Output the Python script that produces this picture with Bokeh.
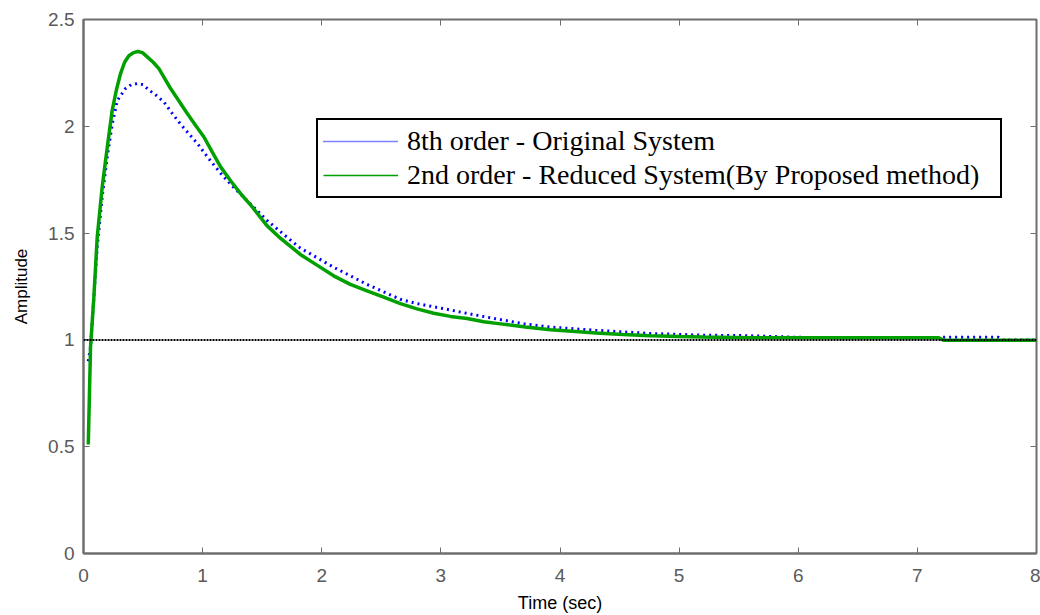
from bokeh.plotting import figure
from bokeh.models import (LinearAxis, FixedTicker, CustomJSTickFormatter, Span,
                          Legend, LegendItem, Range1d)
from bokeh.embed import file_html
from bokeh.resources import INLINE

# Step response of the original 8th-order system
t_orig = [0.04, 0.06, 0.087, 0.115, 0.157, 0.199, 0.241, 0.283, 0.353, 0.40,
          0.451, 0.50, 0.549, 0.61, 0.675, 0.745, 0.815, 0.885, 0.955, 1.05,
          1.151, 1.25, 1.35, 1.54, 1.71, 1.82, 1.96, 2.10, 2.24, 2.38, 2.52,
          2.66, 2.80, 2.94, 3.08, 3.22, 3.45, 3.70, 3.92, 4.30, 4.76, 5.20,
          5.55, 6.00, 6.50, 7.00, 7.23, 7.68, 7.72, 8.00]
y_orig = [0.90, 0.97, 1.20, 1.435, 1.67, 1.856, 2.01, 2.12, 2.177, 2.195,
          2.20, 2.195, 2.17, 2.145, 2.114, 2.06, 2.01, 1.965, 1.92, 1.85,
          1.78, 1.72, 1.665, 1.56, 1.48, 1.43, 1.385, 1.34, 1.30, 1.26, 1.225,
          1.19, 1.17, 1.155, 1.14, 1.124, 1.10, 1.075, 1.06, 1.045, 1.03, 1.022,
          1.02, 1.012, 1.01, 1.01, 1.012, 1.012, 1.0, 1.0]

# Step response of the reduced 2nd-order system
t_red = [0.04, 0.059, 0.087, 0.115, 0.157, 0.199, 0.241, 0.276, 0.311, 0.345,
         0.381, 0.42, 0.456, 0.495, 0.535, 0.585, 0.633, 0.68, 0.731, 0.80,
         0.871, 0.94, 1.011, 1.08, 1.151, 1.235, 1.319, 1.42, 1.54, 1.655,
         1.82, 1.96, 2.10, 2.24, 2.38, 2.52, 2.66, 2.80, 2.94, 3.08, 3.22,
         3.36, 3.50, 3.71, 3.92, 4.10, 4.30, 4.53, 4.76, 5.00, 5.20, 5.60,
         6.00, 6.50, 7.00, 7.18, 7.22, 7.60, 8.00]
y_red = [0.51, 0.966, 1.20, 1.48, 1.716, 1.90, 2.075, 2.17, 2.247, 2.30,
         2.33, 2.345, 2.35, 2.345, 2.325, 2.30, 2.27, 2.225, 2.177, 2.12,
         2.06, 2.005, 1.95, 1.88, 1.81, 1.745, 1.685, 1.62, 1.535, 1.475,
         1.40, 1.35, 1.30, 1.26, 1.23, 1.20, 1.17, 1.145, 1.125, 1.11, 1.10,
         1.085, 1.075, 1.06, 1.047, 1.04, 1.032, 1.025, 1.02, 1.016, 1.013,
         1.01, 1.01, 1.01, 1.01, 1.01, 0.998, 0.998, 0.998]

steady_state = 1.0
x_ticks = [0, 1, 2, 3, 4, 5, 6, 7, 8]
y_ticks = [0, 0.5, 1, 1.5, 2, 2.5]

labels = ["8th order - Original System",
          "2nd order - Reduced System(By Proposed method)"]

AXIS_GRAY = "#6e6e6e"
LABEL_GRAY = "#5a5a5a"
BLUE = "#0000ff"
GREEN = "#00a000"
NAN = float("nan")

p = figure(width=1040, height=615, output_backend="svg", toolbar_location=None,
           x_range=Range1d(0, 8), y_range=Range1d(0, 2.5),
           min_border_left=83, min_border_right=4, min_border_top=19,
           min_border_bottom=62, background_fill_color="white",
           border_fill_color="white")
p.grid.visible = False
p.outline_line_color = AXIS_GRAY
p.outline_line_width = 2

fmt = CustomJSTickFormatter(code="return tick.toString();")
blank = CustomJSTickFormatter(code="return '';")

for ax in (p.xaxis[0], p.yaxis[0]):
    ax.formatter = fmt
    ax.axis_line_color = AXIS_GRAY
    ax.axis_line_width = 2
    ax.major_tick_line_color = AXIS_GRAY
    ax.major_tick_in = 6
    ax.major_tick_out = 0
    ax.minor_tick_line_color = None
    ax.major_label_text_color = LABEL_GRAY
    ax.major_label_text_font = "Liberation Sans"
    ax.major_label_text_font_size = "19px"
    ax.axis_label_text_font = "Liberation Sans"
    ax.axis_label_text_font_style = "normal"
    ax.axis_label_text_color = "black"

p.xaxis[0].ticker = FixedTicker(ticks=x_ticks)
p.yaxis[0].ticker = FixedTicker(ticks=y_ticks)
p.xaxis[0].axis_label = "Time (sec)"
p.xaxis[0].axis_label_text_font_size = "18px"
p.xaxis[0].major_label_standoff = 15
p.xaxis[0].axis_label_standoff = 8
p.yaxis[0].axis_label = "Amplitude"
p.yaxis[0].axis_label_text_font_size = "17px"
p.yaxis[0].major_label_standoff = 9
p.yaxis[0].axis_label_standoff = 14

# Box ticks on the top and right edges
for side, ticks in (("above", x_ticks), ("right", y_ticks)):
    ax = LinearAxis(ticker=FixedTicker(ticks=ticks), formatter=blank,
                    major_label_standoff=0,
                    axis_line_color=None, major_tick_line_color=AXIS_GRAY,
                    major_tick_in=6, major_tick_out=0, minor_tick_line_color=None)
    p.add_layout(ax, side)

# Final-value reference line
p.add_layout(Span(location=steady_state, dimension="width", line_color="black",
                  line_width=2, line_dash="2 1"))

p.line(t_orig, y_orig, line_color=BLUE, line_width=3, line_dash="2 4")
p.line(t_red, y_red, line_color=GREEN, line_width=3.5)

# Thin legend samples (no visible data)
leg_orig = p.line([NAN, NAN], [NAN, NAN], line_color=BLUE, line_width=1.5,
                  line_dash="1 1")
leg_red = p.line([NAN, NAN], [NAN, NAN], line_color=GREEN, line_width=1.5)

legend = Legend(items=[LegendItem(label=labels[0], renderers=[leg_orig]),
                       LegendItem(label=labels[1], renderers=[leg_red])],
                location=(233, 355), orientation="vertical",
                label_text_font="Liberation Serif", label_text_font_size="28px",
                label_text_color="black", glyph_width=75, glyph_height=20,
                label_height=28, label_width=588, spacing=2, padding=5,
                margin=0, border_line_color="black", border_line_width=2,
                border_line_alpha=1.0, background_fill_alpha=1.0,
                label_standoff=9)
p.add_layout(legend, "center")

open("out.html", "w").write(file_html(p, INLINE))
